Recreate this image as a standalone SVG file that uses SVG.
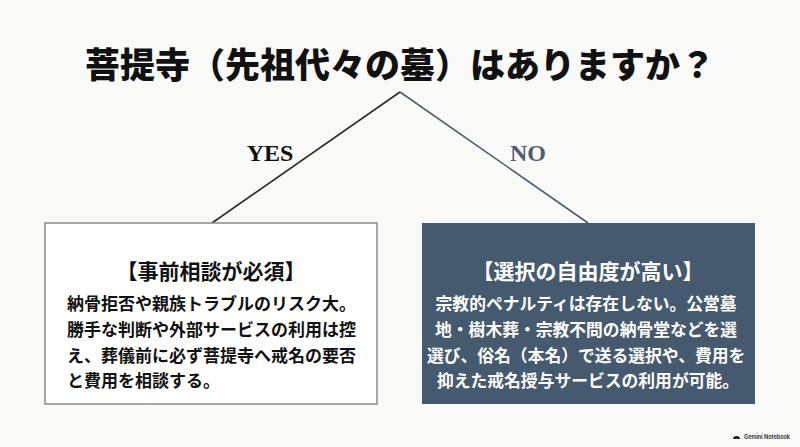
<svg xmlns="http://www.w3.org/2000/svg" width="800" height="447" viewBox="0 0 800 447">
<style>
.title{font-family:"Noto Sans CJK JP","Noto Sans CJK SC",sans-serif;font-weight:900;font-size:35px;fill:#111;text-anchor:middle}
.lbl{font-family:"Liberation Serif",serif;font-weight:bold;font-size:24px;text-anchor:middle}
.head{font-family:"Noto Sans CJK JP",sans-serif;font-weight:bold;font-size:21px;text-anchor:middle}
.body{font-family:"Noto Sans CJK JP",sans-serif;font-weight:bold;font-size:17px}
.conn{fill:none;stroke-width:1.6}
</style>
<rect width="800" height="447" fill="#f9f9f8"/>
<text class="title" x="400" y="78">菩提寺（先祖代々の墓）はありますか？</text>
<g id="connectors">
<path class="conn" d="M400 92 L212 223" stroke="#2b2b2b"/>
<path class="conn" d="M400 92 L588 223" stroke="#4a5d70"/>
<text class="lbl" x="270" y="161" fill="#111">YES</text>
<text class="lbl" x="528" y="161" fill="#4a5d70">NO</text>
</g>
<g id="yes">
<rect x="45" y="223" width="332" height="181" fill="#ffffff" stroke="#8a8a8a" stroke-width="1.5"/>
<text class="head" x="211" y="279" fill="#111">【事前相談が必須】</text>
<text class="body" fill="#111">
<tspan x="67" y="310">納骨拒否や親族トラブルのリスク大。</tspan>
<tspan x="67" y="336">勝手な判断や外部サービスの利用は控</tspan>
<tspan x="67" y="362">え、葬儀前に必ず菩提寺へ戒名の要否</tspan>
<tspan x="67" y="387">と費用を相談する。</tspan>
</text>
</g>
<g id="no">
<rect x="422" y="223" width="333" height="181" fill="#455a6e"/>
<text class="head" x="588" y="279" fill="#ffffff">【選択の自由度が高い】</text>
<text class="body" fill="#ffffff" text-anchor="middle" style="font-size:16.8px">
<tspan x="588" y="310">宗教的ペナルティは存在しない。公営墓</tspan>
<tspan x="588" y="336">地・樹木葬・宗教不問の納骨堂などを選</tspan>
<tspan x="588" y="362">選び、俗名（本名）で送る選択や、費用を</tspan>
<tspan x="588" y="387">抑えた戒名授与サービスの利用が可能。</tspan>
</text>
</g>
<g id="watermark">
<path d="M733 439 a3.5 3 0 0 1 7 0 z" fill="#222"/>
<text x="790" y="439" font-family="Inter,sans-serif" font-size="5.5" font-weight="600" fill="#222" text-anchor="end">Gemini Notebook</text>
</g>
</svg>
